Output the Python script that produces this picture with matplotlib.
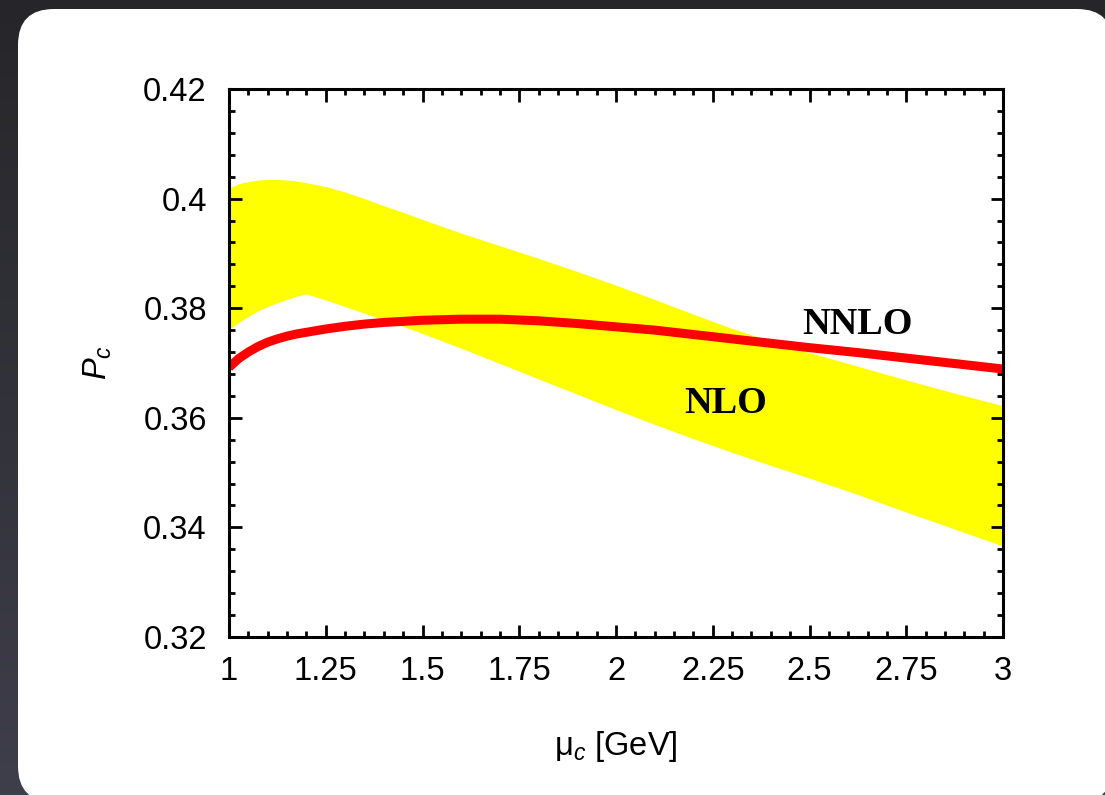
import numpy as np
import matplotlib
matplotlib.use("Agg")
import matplotlib.pyplot as plt
from matplotlib.patches import FancyBboxPatch
from matplotlib.ticker import MultipleLocator
from matplotlib.colors import LinearSegmentedColormap

# Charm-quark contribution P_c versus the matching scale mu_c
mu_c = [1.0, 1.025, 1.05, 1.075, 1.1, 1.125, 1.15, 1.175, 1.2, 1.25, 1.3,
        1.35, 1.4, 1.45, 1.5, 1.6, 1.7, 1.8, 1.9, 2.0, 2.1, 2.2, 2.3, 2.4,
        2.5, 2.625, 2.75, 2.875, 3.0]

# NLO uncertainty band (upper / lower edge)
nlo_upper = [0.4019, 0.4027, 0.4031, 0.4034, 0.4035, 0.4035, 0.4034, 0.4032,
             0.4029, 0.4022, 0.4012, 0.4000, 0.3987, 0.3975, 0.3962, 0.3937,
             0.3914, 0.3891, 0.3867, 0.3842, 0.3816, 0.3789, 0.3763, 0.3740,
             0.3719, 0.3694, 0.3669, 0.3645, 0.3622]
nlo_lower = [0.3761, 0.3774, 0.3785, 0.3795, 0.3803, 0.3810, 0.3816, 0.3822,
             0.3826, 0.3815, 0.3803, 0.3791, 0.3779, 0.3767, 0.3754, 0.3727,
             0.3699, 0.3671, 0.3643, 0.3615, 0.3588, 0.3562, 0.3537, 0.3513,
             0.3490, 0.3460, 0.3428, 0.3397, 0.3366]

# NNLO central curve
nnlo = [0.3692, 0.3708, 0.3720, 0.3730, 0.3738, 0.3744, 0.3749, 0.3753,
        0.3756, 0.3762, 0.3767, 0.3771, 0.3774, 0.3776, 0.3778, 0.3780,
        0.3780, 0.3777, 0.3772, 0.3766, 0.3760, 0.3752, 0.3744, 0.3736,
        0.3728, 0.3719, 0.3709, 0.3699, 0.3689]

x_ticks = [1, 1.25, 1.5, 1.75, 2, 2.25, 2.5, 2.75, 3]
x_tick_labels = ["1", "1.25", "1.5", "1.75", "2", "2.25", "2.5", "2.75", "3"]
y_ticks = [0.32, 0.34, 0.36, 0.38, 0.40, 0.42]
y_tick_labels = ["0.32", "0.34", "0.36", "0.38", "0.4", "0.42"]

plt.rcParams["font.family"] = ["Liberation Sans", "DejaVu Sans"]
plt.rcParams["mathtext.fontset"] = "custom"
plt.rcParams["mathtext.rm"] = "Liberation Sans"
plt.rcParams["mathtext.it"] = "Liberation Sans:italic"

W, H = 1105, 795
fig = plt.figure(figsize=(W / 100, H / 100), dpi=100)

# dark slide background with a white rounded card
bg = fig.add_axes([0, 0, 1, 1], zorder=0)
bg.set_xlim(0, W)
bg.set_ylim(H, 0)
bg.axis("off")
grad = np.linspace(0, 1, 256).reshape(-1, 1)
cmap = LinearSegmentedColormap.from_list("slide", ["#26262a", "#32323a", "#3f3e4b"])
bg.imshow(grad, extent=(0, W, H, 0), cmap=cmap, aspect="auto")
card = FancyBboxPatch((18, 9), 1095, 793,
                      boxstyle="round,pad=0,rounding_size=36",
                      facecolor="white", edgecolor="none")
bg.add_patch(card)

ax = fig.add_axes([229 / W, 1 - 637 / H, (1003 - 229) / W, (637 - 89) / H], zorder=1)
ax.set_facecolor("none")

ax.fill_between(mu_c, nlo_lower, nlo_upper, color="#ffff00", lw=0, zorder=1)
ax.plot(mu_c, nnlo, color="#ff0000", lw=6.5, solid_capstyle="butt",
        solid_joinstyle="round", zorder=2)

ax.set_xlim(1, 3)
ax.set_ylim(0.32, 0.42)
ax.set_xticks(x_ticks)
ax.set_xticklabels(x_tick_labels)
ax.set_yticks(y_ticks)
ax.set_yticklabels(y_tick_labels)
ax.xaxis.set_minor_locator(MultipleLocator(0.05))
ax.yaxis.set_minor_locator(MultipleLocator(0.004))

ax.tick_params(which="both", direction="in", top=True, right=True,
               width=2, color="black")
ax.tick_params(which="major", length=9, labelsize=23.5, pad=16)
ax.tick_params(which="minor", length=4.5)
ax.tick_params(axis="x", which="major", pad=14)
for s in ax.spines.values():
    s.set_linewidth(2.2)

ax.set_xlabel("μ$_{\\mathit{c}}$ [GeV]", fontsize=23.5, labelpad=30)
ax.set_ylabel("$P_c$", fontsize=23.5, labelpad=21)

serif_bold = dict(family=["Liberation Serif", "DejaVu Serif"], fontweight="bold",
                  fontsize=27.5, color="black", ha="center", va="center")
ax.text(2.623, 0.3770, "NNLO", **serif_bold)
ax.text(2.283, 0.3627, "NLO", **serif_bold)

fig.savefig("out.png", dpi=100)
